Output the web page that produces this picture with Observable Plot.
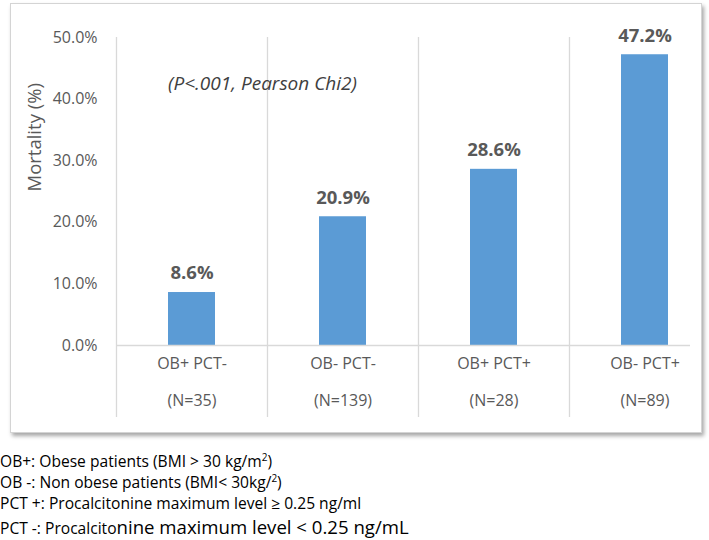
<!DOCTYPE html>
<html>
<head>
<meta charset="utf-8">
<script src="https://cdn.jsdelivr.net/npm/d3@7"></script>
<script src="https://cdn.jsdelivr.net/npm/@observablehq/plot@0.6"></script>
<style>
  body { margin: 0; background: #fff; font-family: "Open Sans", sans-serif; }
  #wrap { position: relative; width: 709px; height: 540px; overflow: hidden; }
  #box { position: absolute; left: 10px; top: 3px; width: 690px; height: 428px;
         border: 1px solid #d4d4d4; box-shadow: 2px 3px 4px rgba(0,0,0,0.35); background: #fff; }
  #chart { position: absolute; left: 0; top: 0; }
  #notes { position: absolute; left: 0; top: 451px; font-size: 15.6px; color: #000; line-height: 21px; }
  #notes sup { font-size: 10px; line-height: 0; }
  .big { font-size: 18.6px; }
</style>
</head>
<body>
<div id="wrap">
  <div id="box"></div>
  <div id="chart"></div>
  <div id="notes">
    <div>OB+: Obese patients (BMI &gt; 30 kg/m<sup>2</sup>)</div>
    <div>OB -: Non obese patients (BMI&lt; 30kg/<sup>2</sup>)</div>
    <div>PCT +: Procalcitonine maximum level ≥ 0.25 ng/ml</div>
    <div style="margin-top:2px">PCT -: Procalcito<span class="big">nine maximum level &lt; 0.25 ng/mL</span></div>
  </div>
</div>
<script>
const categories = ["OB+ PCT-", "OB- PCT-", "OB+ PCT+", "OB- PCT+"];
const nLabels = ["(N=35)", "(N=139)", "(N=28)", "(N=89)"];
const mortality = [0.086, 0.209, 0.286, 0.472];
const yTicks = [0, 0.1, 0.2, 0.3, 0.4, 0.5];
const annotation = "(P<.001, Pearson Chi2)";
const yTitle = "Mortality (%)";

const data = categories.map((c, i) => ({cat: c, n: nLabels[i], v: mortality[i]}));
const fmt = d3.format(".1%");
const grey = "#595959";
const font = "'Open Sans', sans-serif";
const step = 151;

const chart = Plot.plot({
  width: 709,
  height: 440,
  marginLeft: 116,
  marginRight: 19,
  marginTop: 37,
  marginBottom: 23,
  style: { fontFamily: font, background: "transparent", overflow: "visible" },
  x: { type: "band", domain: categories, range: [116, 720], paddingInner: 0.69, paddingOuter: 0.345, axis: null },
  y: { domain: [0, 0.5], range: [345, 37], axis: null },
  marks: [
    Plot.ruleX(categories, { x: d => d, dx: -step / 2, stroke: "#d9d9d9", strokeWidth: 1.3 }),
    Plot.barY(data, { x: "cat", y: "v", fill: "#5b9bd5" }),
    Plot.ruleY([0], { stroke: "#d9d9d9", strokeWidth: 1.3 }),
    Plot.text(yTicks, { y: d => d, text: d => fmt(d), frameAnchor: "left",
      textAnchor: "end", dx: -19, fill: grey, fontSize: 16 }),
    Plot.text(data, { x: "cat", y: "v", text: d => fmt(d.v), dy: -19, fill: grey,
      fontSize: 18.5, fontWeight: "bold" }),
    Plot.text(data, { x: "cat", text: "cat", frameAnchor: "bottom", dy: -49, fill: grey, fontSize: 16 }),
    Plot.text(data, { x: "cat", text: "n", frameAnchor: "bottom", dy: -12, fill: grey, fontSize: 16 }),
    Plot.text([annotation], { frameAnchor: "top-left", dx: 146, dy: 46, text: d => d,
      textAnchor: "middle", lineAnchor: "middle", fontStyle: "italic", fontSize: 19, fill: "#404040" }),
    Plot.text([yTitle], { frameAnchor: "left", dx: -81, dy: -36, text: d => d,
      rotate: -90, fontSize: 18.5, fill: grey })
  ]
});
document.getElementById("chart").appendChild(chart);
</script>
</body>
</html>
